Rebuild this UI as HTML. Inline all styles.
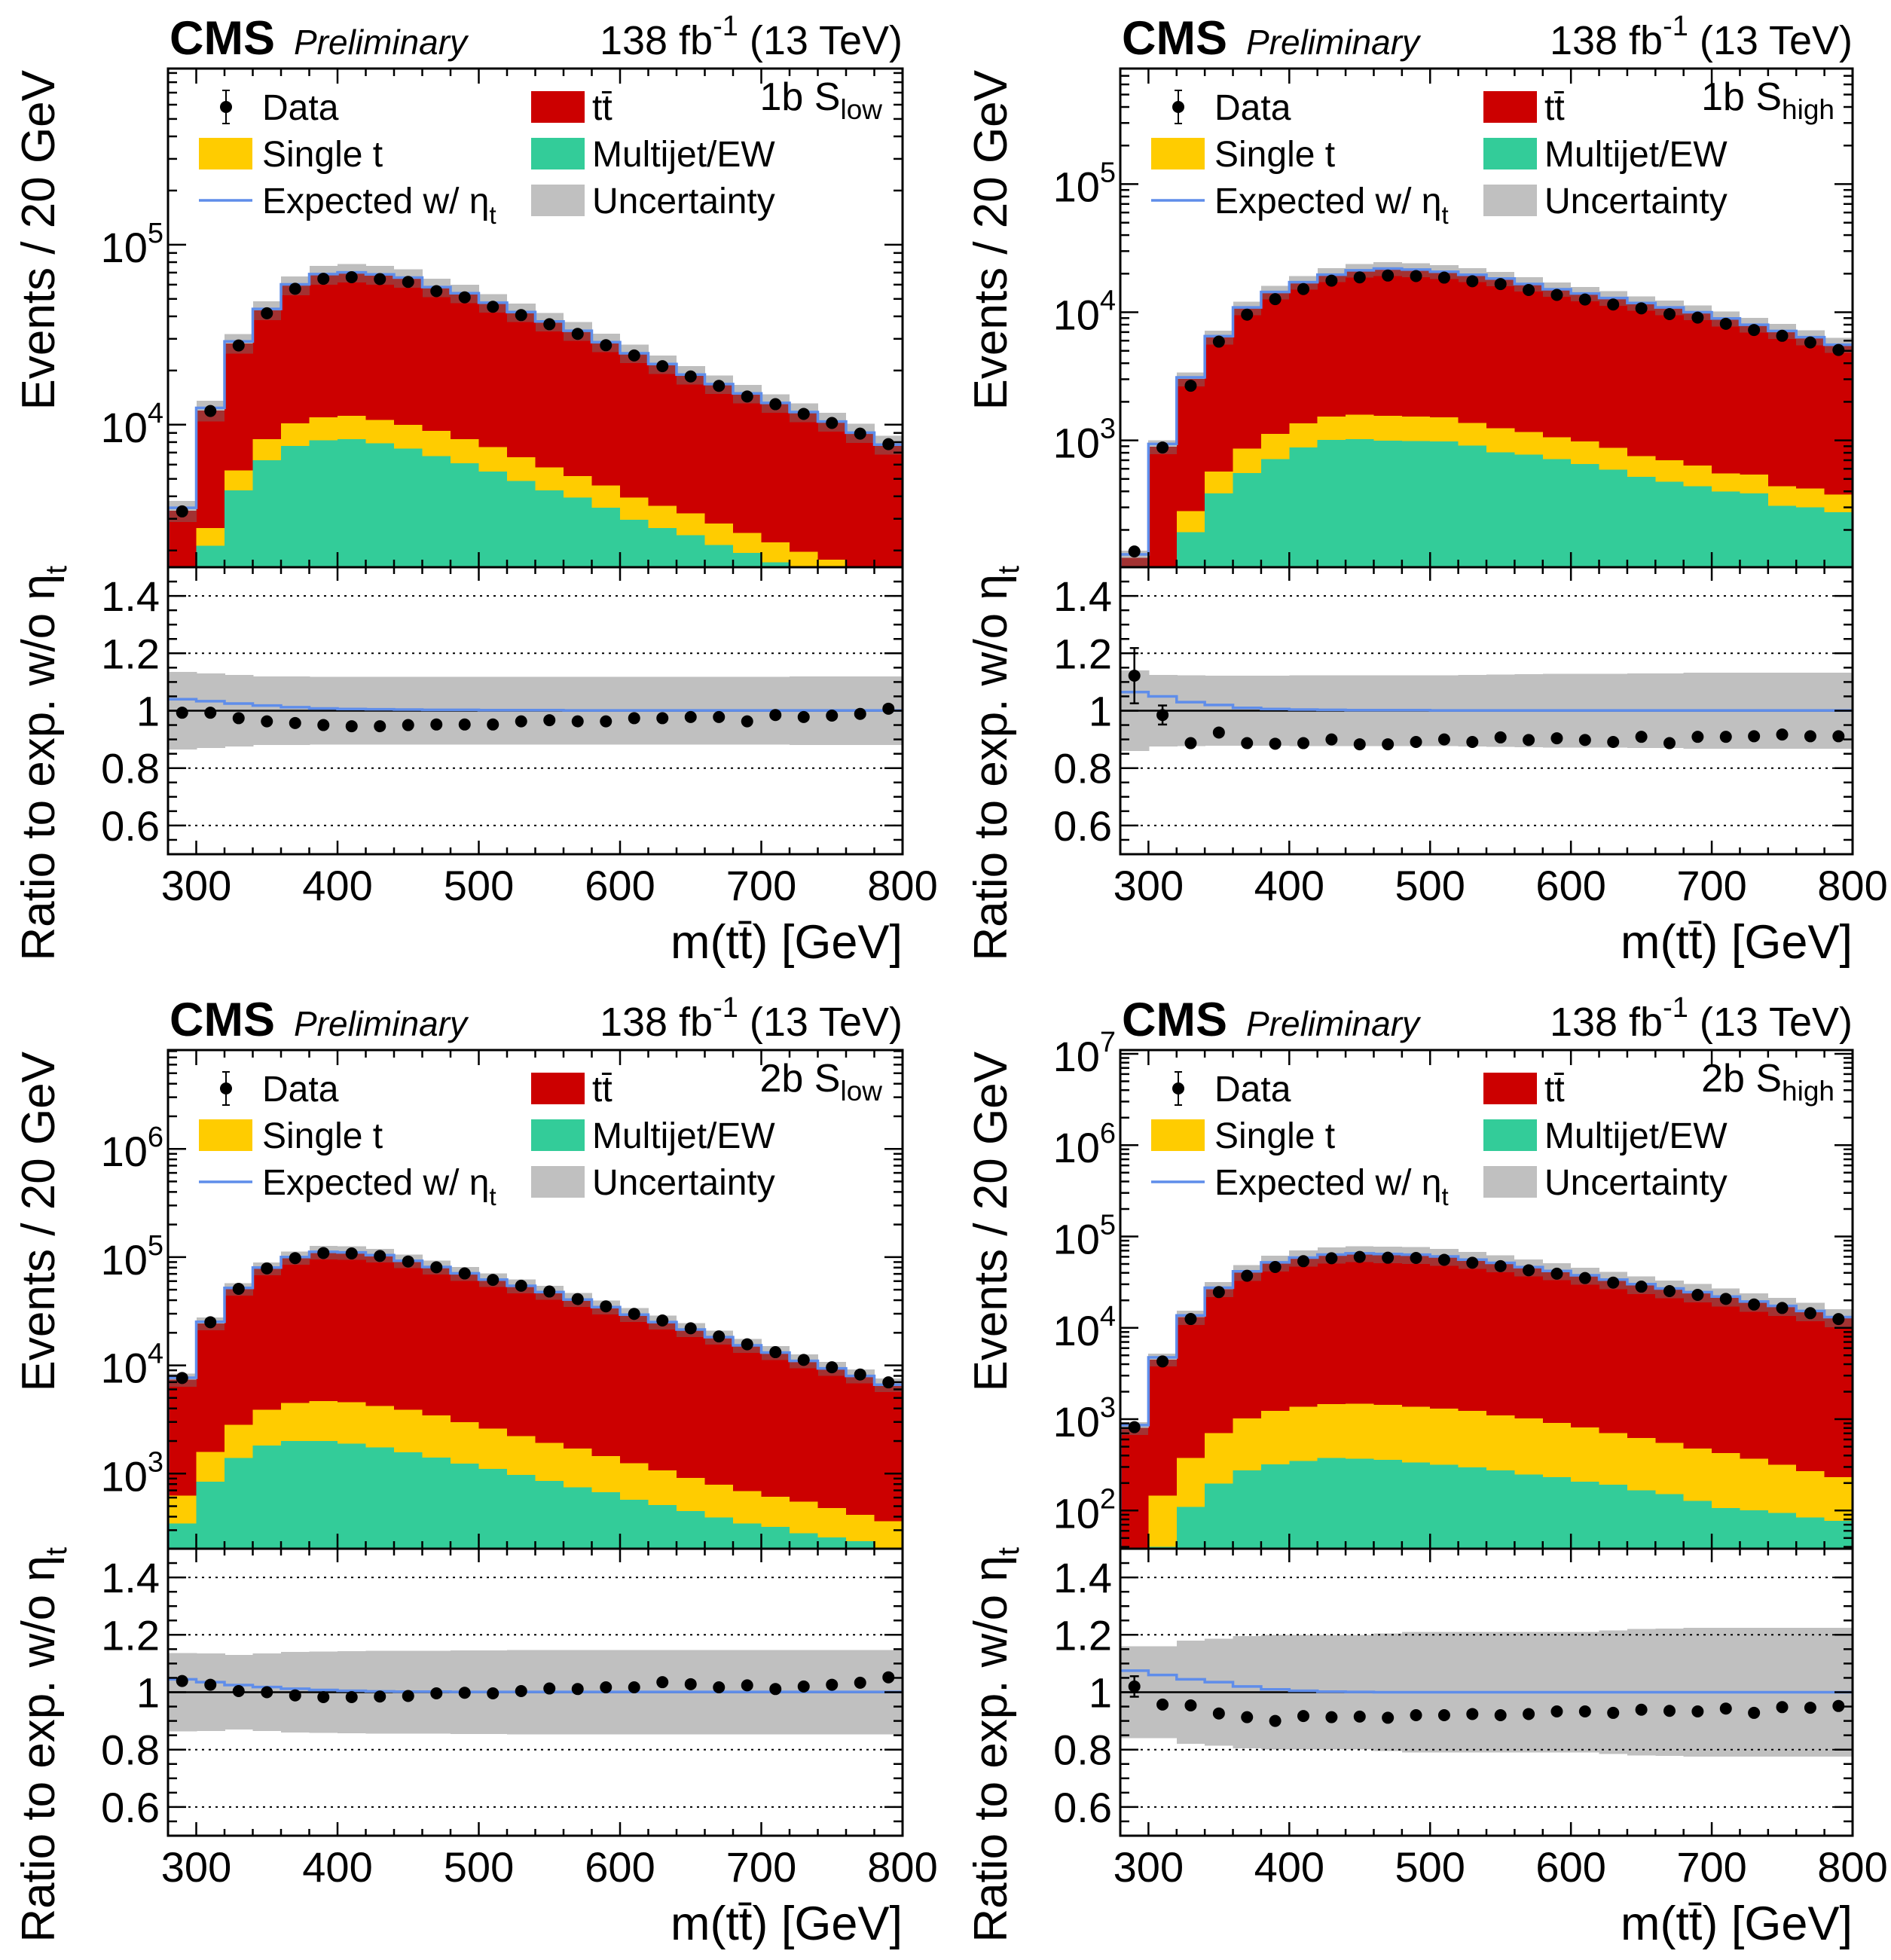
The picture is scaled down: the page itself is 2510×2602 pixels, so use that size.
<!DOCTYPE html>
<html><head><meta charset="utf-8">
<style>
html,body{margin:0;padding:0;background:#fff;}
svg{display:block;font-family:"Liberation Sans",Arial,sans-serif;}
</style></head>
<body>
<svg id="fig" xmlns="http://www.w3.org/2000/svg" width="2510" height="2602" viewBox="0 0 2510 2602">
<rect x="0" y="0" width="2510" height="2602" fill="#fff"/>
</svg>
<script>
// ---- categories (bin low edges, GeV) ----
const binLow = [280,300,320,340,360,380,400,420,440,460,480,500,520,540,560,580,600,620,640,660,680,700,720,740,760,780];
const xTickLabels = ["300","400","500","600","700","800"];
const ratioTickLabels = ["0.6","0.8","1","1.2","1.4"];

// ---- Panel 1: 1b S_low ----
const p1Total = [3320,12000,28300,43200,59500,68100,69800,68100,65400,58000,53600,47500,42200,37400,33200,28700,24900,21700,18960,16800,14900,13200,11740,10400,9020,7740];
const p1SinglePlusMJ = [600,2670,5580,8320,10160,11000,11200,10650,10000,9230,8320,7500,6600,5800,5190,4600,3930,3540,3210,2830,2500,2220,1970,1780,1550,1400];
const p1Multijet = [300,2120,4320,6340,7620,8190,8320,7870,7380,6700,6090,5490,4870,4320,3930,3450,2960,2670,2430,2150,1940,1720,1550,1400,1250,1100];
const p1DataRatio = [0.993,0.993,0.974,0.963,0.957,0.950,0.946,0.946,0.950,0.952,0.952,0.952,0.963,0.967,0.963,0.963,0.974,0.974,0.978,0.978,0.963,0.985,0.978,0.983,0.989,1.007];
const p1EtaRatio = [1.040,1.033,1.025,1.018,1.012,1.008,1.006,1.005,1.004,1.003,1.003,1.002,1.002,1.002,1.001,1.001,1.001,1.001,1.001,1.001,1.001,1.001,1.001,1.001,1.001,1.001];
const p1Unc = [0.135,0.130,0.125,0.120,0.120,0.118,0.118,0.118,0.118,0.118,0.118,0.118,0.118,0.118,0.118,0.118,0.118,0.118,0.118,0.118,0.118,0.118,0.120,0.120,0.120,0.120];

// ---- Panel 2: 1b S_high ----
const p2Total = [121,893,3010,6380,10800,14300,17100,19600,21200,21900,21500,20700,19600,18300,16600,15100,14000,12900,11800,10900,10000,8940,7980,7140,6380,5570];
const p2SinglePlusMJ = [5,40,281,570,865,1120,1355,1530,1590,1550,1530,1510,1370,1240,1160,1060,980,873,755,698,638,551,540,440,421,377];
const p2Multijet = [1,1,192,385,557,714,883,1010,1023,995,990,980,914,807,773,714,653,590,521,476,440,398,385,308,301,275];
const p2DataRatio = [1.122,0.985,0.887,0.924,0.887,0.885,0.887,0.900,0.883,0.883,0.891,0.900,0.891,0.907,0.898,0.904,0.898,0.891,0.909,0.887,0.909,0.909,0.911,0.917,0.911,0.911];
const p2EtaRatio = [1.065,1.050,1.030,1.020,1.010,1.006,1.004,1.003,1.002,1.002,1.002,1.001,1.001,1.001,1.001,1.001,1.001,1.001,1.001,1.001,1.001,1.001,1.001,1.001,1.001,1.001];
const p2Unc = [0.140,0.125,0.123,0.122,0.122,0.122,0.123,0.123,0.123,0.124,0.124,0.124,0.125,0.126,0.127,0.128,0.128,0.129,0.130,0.130,0.132,0.133,0.133,0.133,0.133,0.133];

// ---- Panel 3: 2b S_low ----
const p3Total = [7360,24400,50700,78700,99000,111000,110000,104000,92300,80900,70800,61900,54200,47500,40500,34500,29400,25100,21400,18200,15300,13100,11000,9360,7970,6620];
const p3SinglePlusMJ = [628,1590,2820,3890,4500,4690,4560,4210,3890,3450,2980,2610,2220,1920,1700,1450,1250,1070,912,787,689,611,549,481,415,364];
const p3Multijet = [345,841,1400,1820,2000,2000,1890,1750,1570,1410,1240,1110,973,853,746,671,572,514,450,394,345,323,282,257,238,200];
const p3DataRatio = [1.039,1.026,1.004,1.000,0.989,0.983,0.983,0.985,0.987,0.996,0.998,0.996,1.004,1.013,1.011,1.017,1.017,1.035,1.028,1.017,1.024,1.011,1.020,1.026,1.033,1.052];
const p3EtaRatio = [1.045,1.035,1.025,1.018,1.012,1.008,1.005,1.003,1.002,1.002,1.001,1.001,1.001,1.001,1.001,1.001,1.001,1.001,1.001,1.001,1.001,1.001,1.001,1.001,1.001,1.001];
const p3Unc = [0.137,0.135,0.130,0.135,0.140,0.142,0.143,0.144,0.145,0.145,0.146,0.146,0.147,0.147,0.147,0.147,0.147,0.147,0.147,0.147,0.147,0.147,0.147,0.147,0.147,0.147];

// ---- Panel 4: 2b S_high ----
const p4Total = [801,4480,13100,26600,40700,51500,58500,63300,65300,64300,63300,60400,55800,51500,46200,42000,37600,33700,30100,27000,24600,22000,19400,17400,15300,13100];
const p4SinglePlusMJ = [20,146,376,706,1020,1230,1370,1460,1480,1440,1370,1310,1230,1100,1020,909,815,706,623,549,477,427,370,316,270,231];
const p4Multijet = [1,40,110,197,274,321,348,376,368,359,337,316,297,274,249,231,207,191,166,151,127,106,101,94,84,77];
const p4DataRatio = [1.020,0.957,0.954,0.926,0.913,0.900,0.917,0.913,0.915,0.911,0.920,0.920,0.924,0.920,0.924,0.933,0.933,0.928,0.939,0.935,0.933,0.943,0.928,0.948,0.946,0.952];
const p4EtaRatio = [1.075,1.060,1.045,1.035,1.020,1.010,1.005,1.002,1.001,1.000,1.000,1.000,1.000,1.000,1.000,1.000,1.000,1.000,1.000,1.000,1.000,1.000,1.000,1.000,1.000,1.000];
const p4Unc = [0.160,0.160,0.180,0.187,0.196,0.200,0.200,0.200,0.200,0.205,0.210,0.210,0.210,0.210,0.210,0.210,0.210,0.215,0.220,0.222,0.225,0.225,0.225,0.225,0.225,0.225];

const NS = "http://www.w3.org/2000/svg";
const svg = document.getElementById('fig');
const COL = {tt:"#cc0000", st:"#ffcc00", mj:"#33cc99", unc:"#c0c0c0", blue:"#5f8dea"};

const panels = [
  {id:"p1", x0:223, x1:1198, top:91, split:753, bot:1134, lmin:3.208, lmax:5.979, region:"1b S", sub:"low",
   total:p1Total, smj:p1SinglePlusMJ, mj:p1Multijet, dr:p1DataRatio, er:p1EtaRatio, unc:p1Unc},
  {id:"p2", x0:1487, x1:2459, top:91, split:753, bot:1134, lmin:2.010, lmax:5.902, region:"1b S", sub:"high",
   total:p2Total, smj:p2SinglePlusMJ, mj:p2Multijet, dr:p2DataRatio, er:p2EtaRatio, unc:p2Unc},
  {id:"p3", x0:223, x1:1198, top:1394, split:2056, bot:2437, lmin:2.306, lmax:6.913, region:"2b S", sub:"low",
   total:p3Total, smj:p3SinglePlusMJ, mj:p3Multijet, dr:p3DataRatio, er:p3EtaRatio, unc:p3Unc},
  {id:"p4", x0:1487, x1:2459, top:1394, split:2056, bot:2437, lmin:1.582, lmax:7.041, region:"2b S", sub:"high",
   total:p4Total, smj:p4SinglePlusMJ, mj:p4Multijet, dr:p4DataRatio, er:p4EtaRatio, unc:p4Unc}
];

function mk(tag, parent){ const e=document.createElementNS(NS,tag); parent.appendChild(e); return e; }
function at(e,o){ for(const k in o) e.setAttribute(k,o[k]); return e; }

panels.forEach(function(p, pi){
  const sx = m => p.x0 + (m-280)/520*(p.x1-p.x0);
  const sy = v => p.split - (Math.log10(Math.max(v,1e-3))-p.lmin)/(p.lmax-p.lmin)*(p.split-p.top);
  const ry = r => p.bot - (r-0.5)*(p.bot-p.split);
  const dx = p.x0-223, dy = p.top-91;

  const g = mk('g', svg);
  
  

  const defs = mk('defs', g);
  const cm = at(mk('clipPath', defs), {id:p.id+'cm'});
  at(mk('rect', cm), {x:p.x0, y:p.top, width:p.x1-p.x0, height:p.split-p.top});
  const cr = at(mk('clipPath', defs), {id:p.id+'cr'});
  at(mk('rect', cr), {x:p.x0, y:p.split, width:p.x1-p.x0, height:p.bot-p.split});

  // ---- main stack ----
  const gm = at(mk('g', g), {'clip-path':'url(#'+p.id+'cm)'});
  
  
  binLow.forEach(function(b, i){
    const xa = sx(b), xb = sx(b+20);
    const layers = [[p.total[i], COL.tt, 'bar-ttbar'], [p.smj[i], COL.st, 'bar-single-t'], [p.mj[i], COL.mj, 'bar-multijet']];
    layers.forEach(function(L){
      const yTop = sy(L[0]);
      if (yTop >= p.split) return;
      const r = at(mk('rect', gm), {x:xa, y:yTop, width:xb-xa+1, height:p.split-yTop, fill:L[1], 'shape-rendering':'crispEdges'});
      
      
    });
  });
  binLow.forEach(function(b, i){
    const xa = sx(b), xb = sx(b+20);
    const yh = sy(p.total[i]*(1+p.unc[i])), yl = sy(p.total[i]*(1-p.unc[i]));
    const r = at(mk('rect', gm), {x:Math.round(xa), y:yh, width:Math.round(xb)-Math.round(xa), height:yl-yh, fill:'rgba(110,110,110,0.45)', 'shape-rendering':'crispEdges'});
    
    
  });
  let d = 'M'+sx(280)+','+p.split;
  binLow.forEach(function(b, i){
    const y = sy(p.total[i]*p.er[i]);
    d += ' V'+y+' H'+sx(b+20);
  });
  const bl = at(mk('path', gm), {d:d, fill:'none', stroke:COL.blue, 'stroke-width':3.5});
  
  
  binLow.forEach(function(b, i){
    const n = p.dr[i]*p.total[i];
    const e = Math.sqrt(n);
    const cx = sx(b+10);
    const y = sy(n);
    if (y > p.split) return;
    at(mk('line', gm), {x1:cx, x2:cx, y1:sy(n+e), y2:sy(Math.max(n-e,1e-3)), stroke:'#000', 'stroke-width':2});
    const c = at(mk('circle', gm), {cx:cx, cy:y, r:8, fill:'#000'});
    
    
  });

  // ---- ratio pad ----
  const gr = at(mk('g', g), {'clip-path':'url(#'+p.id+'cr)'});
  
  
  binLow.forEach(function(b, i){
    const xa = sx(b), xb = sx(b+20);
    const r = at(mk('rect', gr), {x:xa, y:ry(1+p.unc[i]), width:xb-xa+1, height:ry(1-p.unc[i])-ry(1+p.unc[i]), fill:COL.unc, 'shape-rendering':'crispEdges'});
    
    
  });
  [0.6,0.8,1.2,1.4].forEach(function(v){
    at(mk('line', gr), {x1:p.x0, x2:p.x1, y1:ry(v), y2:ry(v), stroke:'#000', 'stroke-width':2, 'stroke-dasharray':'3,6'});
  });
  at(mk('line', gr), {x1:p.x0, x2:p.x1, y1:ry(1), y2:ry(1), stroke:'#000', 'stroke-width':2.5});
  let d2 = '';
  binLow.forEach(function(b, i){
    const y = ry(p.er[i]);
    d2 += (i===0 ? 'M'+sx(b)+','+y : ' V'+y) + ' H'+sx(b+20);
  });
  const bl2 = at(mk('path', gr), {d:d2, fill:'none', stroke:COL.blue, 'stroke-width':3.5});
  
  
  binLow.forEach(function(b, i){
    const n = p.dr[i]*p.total[i];
    const er = p.dr[i]/Math.sqrt(n);
    const cx = sx(b+10);
    const y1 = ry(p.dr[i]+er), y2 = ry(p.dr[i]-er);
    at(mk('line', gr), {x1:cx, x2:cx, y1:y1, y2:y2, stroke:'#000', 'stroke-width':2.5});
    if (y2-y1 > 18) {
      at(mk('line', gr), {x1:cx-6, x2:cx+6, y1:y1, y2:y1, stroke:'#000', 'stroke-width':2.5});
      at(mk('line', gr), {x1:cx-6, x2:cx+6, y1:y2, y2:y2, stroke:'#000', 'stroke-width':2.5});
    }
    const c = at(mk('circle', gr), {cx:cx, cy:ry(p.dr[i]), r:8, fill:'#000'});
    
    
  });

  // ---- ticks ----
  const gt = mk('g', g);
  
  
  function tl(x1,y1,x2,y2){ at(mk('line', gt), {x1:x1,y1:y1,x2:x2,y2:y2,stroke:'#000','stroke-width':2.5}); }
  for (let m=280; m<=800; m+=20){
    const x = sx(m), L = (m%100===0) ? 20 : 10;
    tl(x,p.split,x,p.split-L); tl(x,p.top,x,p.top+L);
    tl(x,p.bot,x,p.bot-L*0.9); tl(x,p.split,x,p.split+L*0.9);
  }
  for (let dd=Math.floor(p.lmin); dd<=Math.ceil(p.lmax); dd++){
    for (let k=1;k<=9;k++){
      const l = dd+Math.log10(k);
      if (l<p.lmin || l>p.lmax) continue;
      const y = p.split-(l-p.lmin)/(p.lmax-p.lmin)*(p.split-p.top);
      const L = k===1 ? 24 : 12;
      tl(p.x0,y,p.x0+L,y); tl(p.x1,y,p.x1-L,y);
      if (k===1){
        const t = at(mk('text', g), {x:p.x0-6, y:y+23, 'font-size':56, 'text-anchor':'end'});
        
        
        const a = mk('tspan', t); a.textContent = '10';
        const s = at(mk('tspan', t), {'font-size':38, dy:-26}); s.textContent = String(dd);
      }
    }
  }
  for (let v=0.55; v<1.5; v+=0.05){
    const vv = Math.round(v*100)/100;
    const major = Math.abs(vv*5-Math.round(vv*5))<1e-6;
    const L = major ? 24 : 12;
    tl(p.x0,ry(vv),p.x0+L,ry(vv)); tl(p.x1,ry(vv),p.x1-L,ry(vv));
  }
  ratioTickLabels.forEach(function(lab){
    const t = at(mk('text', g), {x:p.x0-11, y:ry(parseFloat(lab))+20, 'font-size':56, 'text-anchor':'end'});
    t.textContent = lab;
    
    
  });
  xTickLabels.forEach(function(lab){
    const t = at(mk('text', g), {x:sx(parseFloat(lab)), y:p.bot+61, 'font-size':56, 'text-anchor':'middle'});
    t.textContent = lab;
    
    
  });

  // ---- frames ----
  const f1 = at(mk('rect', g), {x:p.x0, y:p.top, width:p.x1-p.x0, height:p.split-p.top, fill:'none', stroke:'#000', 'stroke-width':3});
  
  
  const f2 = at(mk('rect', g), {x:p.x0, y:p.split, width:p.x1-p.x0, height:p.bot-p.split, fill:'none', stroke:'#000', 'stroke-width':3});
  
  

  // ---- titles ----
  const cms = at(mk('text', g), {x:225+dx, y:72+dy, 'font-size':63, 'font-weight':'bold'});
  cms.textContent = 'CMS';
  
  
  const pre = at(mk('text', g), {x:390+dx, y:72+dy, 'font-size':46, 'font-style':'italic'});
  pre.textContent = 'Preliminary';
  
  
  const lumi = at(mk('text', g), {x:p.x1, y:72+dy, 'font-size':54, 'text-anchor':'end'});
  
  
  const l1 = mk('tspan', lumi); l1.textContent = '138 fb';
  const l2 = at(mk('tspan', lumi), {'font-size':38, dy:-25}); l2.textContent = '-1';
  const l3 = at(mk('tspan', lumi), {dy:25}); l3.textContent = ' (13 TeV)';

  const reg = at(mk('text', g), {x:1171+dx, y:146+dy, 'font-size':52, 'text-anchor':'end'});
  
  
  const r1 = mk('tspan', reg); r1.textContent = p.region;
  const r2 = at(mk('tspan', reg), {'font-size':37, dy:12}); r2.textContent = p.sub;

  const yt = at(mk('text', g), {x:0, y:0, 'font-size':62, 'text-anchor':'end', transform:'translate('+(72+dx)+','+(93+dy)+') rotate(-90)'});
  yt.textContent = 'Events / 20 GeV';
  
  
  const rt = at(mk('text', g), {x:0, y:0, 'font-size':62, 'text-anchor':'end', transform:'translate('+(72+dx)+','+(751+dy)+') rotate(-90)'});
  
  
  const rt1 = mk('tspan', rt); rt1.textContent = 'Ratio to exp. w/o \u03B7';
  const rt2 = at(mk('tspan', rt), {'font-size':40, dy:16}); rt2.textContent = 't';

  const xt = at(mk('text', g), {x:p.x1, y:1272+dy, 'font-size':63, 'text-anchor':'end'});
  xt.textContent = 'm(tt\u0304) [GeV]';
  
  

  // ---- legend ----
  const lg = mk('g', g);
  
  
  const LX = 300+dx, TX = 348+dx, BX = 264+dx, RB = 705+dx, RT = 786+dx;
  const rowY = [142+dy, 204+dy, 266+dy];
  at(mk('line', lg), {x1:LX, x2:LX, y1:rowY[0]-22, y2:rowY[0]+22, stroke:'#000','stroke-width':2});
  at(mk('line', lg), {x1:LX-5, x2:LX+5, y1:rowY[0]-22, y2:rowY[0]-22, stroke:'#000','stroke-width':2});
  at(mk('line', lg), {x1:LX-5, x2:LX+5, y1:rowY[0]+22, y2:rowY[0]+22, stroke:'#000','stroke-width':2});
  at(mk('circle', lg), {cx:LX, cy:rowY[0], r:8, fill:'#000'});
  at(mk('rect', lg), {x:BX, y:rowY[1]-21, width:71, height:42, fill:COL.st});
  at(mk('line', lg), {x1:BX, x2:BX+71, y1:rowY[2], y2:rowY[2], stroke:COL.blue, 'stroke-width':3.5});
  at(mk('rect', lg), {x:RB, y:rowY[0]-21, width:71, height:42, fill:COL.tt});
  at(mk('rect', lg), {x:RB, y:rowY[1]-21, width:71, height:42, fill:COL.mj});
  at(mk('rect', lg), {x:RB, y:rowY[2]-21, width:71, height:42, fill:COL.unc});
  const legTexts = [[TX,0,'Data','legend-entry-data'],[TX,1,'Single t','legend-entry-single-t'],[RT,0,'tt\u0304','legend-entry-ttbar'],[RT,1,'Multijet/EW','legend-entry-multijet'],[RT,2,'Uncertainty','legend-entry-uncertainty']];
  legTexts.forEach(function(L){
    const t = at(mk('text', lg), {x:L[0], y:rowY[L[1]]+17, 'font-size':48});
    t.textContent = L[2];
    
    
  });
  const te = at(mk('text', lg), {x:TX, y:rowY[2]+17, 'font-size':48});
  
  
  const te1 = mk('tspan', te); te1.textContent = 'Expected w/ \u03B7';
  const te2 = at(mk('tspan', te), {'font-size':33, dy:14}); te2.textContent = 't';
});
</script>
</body></html>
